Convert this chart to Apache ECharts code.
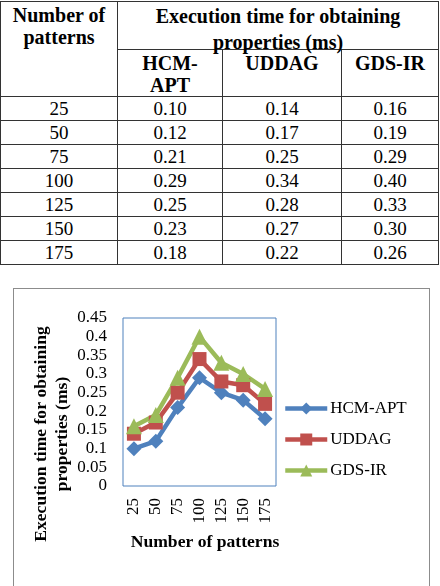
<!DOCTYPE html>
<html>
<head>
<meta charset="utf-8">
<script src="https://cdn.jsdelivr.net/npm/echarts@6/dist/echarts.min.js"></script>
<style>
html,body{margin:0;padding:0;overflow:hidden;background:#fff;width:440px;height:586px;}
#tbl{position:absolute;left:0;top:1px;border-collapse:collapse;table-layout:fixed;font-family:"Liberation Serif","Times New Roman",serif;color:#000;}
#tbl td{border:1px solid #333;padding:0;text-align:center;font-size:19px;line-height:22px;}
#tbl .hd td{font-weight:bold;font-size:20px;vertical-align:top;}
#tbl .hd .cell{overflow:visible;}
#tbl .row td{height:23px;vertical-align:middle;}
#box{position:absolute;left:13px;top:288px;width:415px;height:400px;border:1px solid #8c8c8c;}
#main{position:absolute;left:0;top:270px;width:440px;height:316px;}
</style>
</head>
<body>
<table id="tbl">
  <colgroup><col style="width:117px"><col style="width:105px"><col style="width:119px"><col style="width:97px"></colgroup>
  <tr class="hd"><td rowspan="2"><div class="cell" style="padding-top:2px">Number of<br>patterns</div></td><td colspan="3"><div class="cell" style="height:47px;line-height:26px;padding-top:1px;box-sizing:border-box">Execution time for obtaining<br>properties (ms)</div></td></tr>
  <tr class="hd" id="names"></tr>
</table>
<div id="box"></div>
<div id="main"></div>
<script>
//数据
var patterns=["25","50","75","100","125","150","175"];
var seriesNames=["HCM-APT","UDDAG","GDS-IR"];
var hcmApt=[0.10,0.12,0.21,0.29,0.25,0.23,0.18];
var uddag=[0.14,0.17,0.25,0.34,0.28,0.27,0.22];
var gdsIr=[0.16,0.19,0.29,0.40,0.33,0.30,0.26];
var yTicks={min:0,max:0.45,interval:0.05};

//表格
var head=document.getElementById("names");
head.innerHTML="<td><div class='cell' style='height:46px;padding-top:2px;box-sizing:border-box'>HCM-<br>APT</div></td>"
	+"<td><div class='cell' style='padding-top:2px'>"+seriesNames[1]+"</div></td>"
	+"<td><div class='cell' style='padding-top:2px'>"+seriesNames[2]+"</div></td>";
var tbl=document.getElementById("tbl");
for(var i=0;i<patterns.length;i++){
	var tr=document.createElement("tr");
	tr.className="row";
	tr.innerHTML="<td>"+patterns[i]+"</td><td>"+hcmApt[i].toFixed(2)+"</td><td>"+uddag[i].toFixed(2)+"</td><td>"+gdsIr[i].toFixed(2)+"</td>";
	tbl.appendChild(tr);
}

//折线图
var font='"Liberation Serif","Times New Roman",serif';
var myChart=echarts.init(document.getElementById('main'));
function line(name,data,color,symbol,size){
	return {
		name:name,
		type:'line',
		data:data,
		symbol:symbol,
		symbolSize:size,
		lineStyle:{color:color,width:4.5},
		itemStyle:{color:color},
		animation:false
	};
}
var option={
	textStyle:{fontFamily:font,color:'#000'},
	grid:{left:123,right:164,top:48,bottom:100,show:true,borderColor:'#4F81BD',borderWidth:1},
	legend:{
		orient:'vertical',
		left:283,
		top:130,
		padding:0,
		itemWidth:42,
		itemHeight:15,
		itemGap:14,
		lineStyle:{width:4.5},
		textStyle:{fontFamily:font,fontSize:17,color:'#000',padding:[0,0,0,-2]},
		data:seriesNames
	},
	xAxis:{
		type:'category',
		data:patterns,
		axisLine:{show:false},
		axisTick:{show:false},
		axisLabel:{interval:0,rotate:90,margin:12,fontFamily:font,fontSize:17,color:'#000'},
		name:'Number of patterns',
		nameLocation:'middle',
		nameGap:47,
		nameTextStyle:{fontFamily:font,fontSize:17.6,fontWeight:'bold',color:'#000',padding:[0,0,0,11]}
	},
	yAxis:{
		type:'value',
		min:yTicks.min,
		max:yTicks.max,
		interval:yTicks.interval,
		axisLine:{show:false},
		axisTick:{show:false},
		splitLine:{show:false},
		axisLabel:{margin:16,fontFamily:font,fontSize:17,color:'#000'}
	},
	graphic:[{
		type:'text',
		x:52,
		y:164,
		rotation:Math.PI/2,
		style:{
			text:'Execution time for obtaining\nproperties (ms)',
			fontFamily:font,
			fontSize:17.6,
			fontWeight:'bold',
			lineHeight:21,
			fill:'#000',
			align:'center',
			verticalAlign:'middle'
		}
	}],
	series:[
		line(seriesNames[0],hcmApt,'#4F81BD','diamond',15),
		line(seriesNames[1],uddag,'#C0504D','rect',14),
		line(seriesNames[2],gdsIr,'#9BBB59','triangle',16)
	]
};
myChart.setOption(option);
</script>
</body>
</html>
